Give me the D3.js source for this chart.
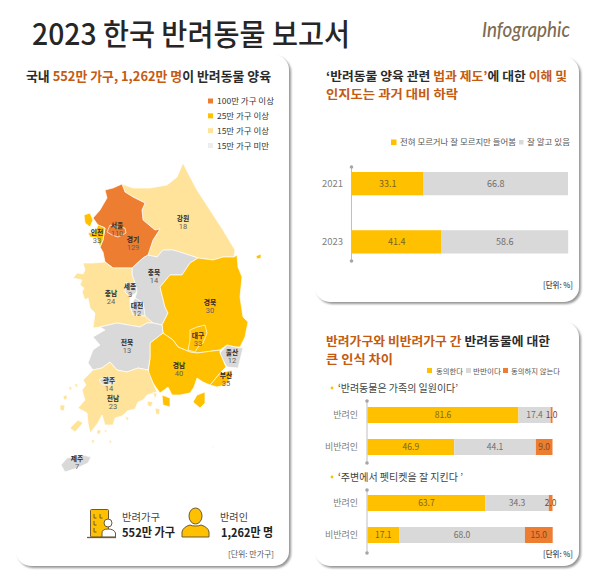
<!DOCTYPE html>
<html><head><meta charset="utf-8">
<script src="https://cdnjs.cloudflare.com/ajax/libs/d3/7.8.5/d3.min.js"></script>
<style>html,body{margin:0;padding:0;background:#fff}svg{display:block}text{font-family:"Noto Sans CJK KR","Noto Sans",sans-serif}</style>
</head><body><svg id="c" width="600" height="576"></svg>
<script>
// ---------- data ----------
const regionNames = ["강원","경기","인천","서울","충북","세종","대전","충남","경북","대구","울산","부산","경남","전북","전남","광주","제주"];
const regionValues = [18,129,33,110,14,3,12,24,30,33,12,35,40,13,23,14,7];
// outlines in km east / north of a south-west map origin
const regionOutlines = [
 [[[246,634],[256,614],[274,580],[300,540],[326,500],[350,460],[348,446],[326,446],[306,440],[276,444],[246,454],[226,460],[206,460],[194,446],[176,450],[186,480],[200,502],[190,500],[166,520],[164,540],[170,554],[146,566],[130,576],[124,592],[146,584],[180,584],[214,590],[234,606]]],
 [[[124,592],[130,576],[146,566],[170,554],[164,540],[166,520],[190,500],[200,502],[186,480],[176,450],[166,444],[144,424],[124,424],[106,424],[90,436],[86,456],[80,466],[86,480],[90,504],[76,510],[66,524],[80,540],[94,564],[90,580],[106,584]]],
 [[[48,530],[60,534],[66,520],[60,506],[50,514]],[[76,510],[90,504],[86,480],[80,466],[74,484],[60,486],[56,494],[70,496]]],
 [[[100,510],[114,506],[130,504],[132,494],[116,486],[104,490],[94,496]]],
 [[[144,424],[166,444],[176,450],[194,446],[206,460],[226,460],[246,454],[276,444],[260,434],[244,410],[220,410],[200,386],[210,346],[216,334],[204,310],[186,314],[170,326],[166,354],[150,364],[154,376],[150,394],[144,410]]],
 [[[130,394],[150,394],[154,376],[140,366],[130,376]]],
 [[[150,364],[166,354],[170,328],[146,330],[140,346]]],
 [[[46,434],[66,434],[90,436],[106,424],[124,424],[144,424],[144,410],[150,394],[130,394],[130,376],[140,366],[140,346],[146,330],[170,328],[186,314],[174,314],[160,306],[114,314],[80,306],[66,304],[70,334],[60,344],[56,364],[50,360],[44,376],[48,384],[40,390],[44,400],[26,404],[34,414],[46,412],[50,420]]],
 [[[348,446],[354,450],[356,426],[364,406],[360,366],[366,326],[376,316],[370,286],[360,266],[350,266],[334,270],[320,260],[274,254],[260,256],[236,266],[226,280],[206,294],[204,310],[216,334],[210,346],[200,386],[220,410],[244,410],[260,434],[276,444],[306,440],[326,446]],[[392,448],[402,452],[402,444],[394,442]]],
 [[[260,300],[274,306],[290,310],[294,294],[286,274],[276,266],[270,256],[256,260],[260,280]]],
 [[[320,254],[334,270],[350,266],[366,264],[360,240],[356,224],[334,226],[326,240]]],
 [[[300,190],[320,214],[344,220],[344,206],[330,190],[314,186]]],
 [[[206,294],[226,280],[236,266],[260,256],[274,254],[320,260],[320,254],[326,240],[332,226],[320,214],[300,190],[286,196],[274,204],[268,186],[260,174],[240,170],[224,170],[216,186],[200,174],[186,194],[176,214],[180,244],[180,274],[200,290]],[[274,170],[290,176],[290,154],[280,144],[266,156]],[[204,170],[220,164],[220,146],[206,150]]],
 [[[80,306],[114,314],[160,306],[174,314],[186,314],[204,310],[206,294],[180,274],[180,244],[176,220],[156,224],[134,216],[114,220],[100,236],[84,224],[66,220],[56,234],[66,260],[80,270],[66,286],[90,300]]],
 [[[66,220],[84,224],[100,236],[114,220],[134,216],[156,224],[176,220],[186,194],[194,176],[174,170],[166,160],[156,156],[150,142],[134,138],[124,128],[110,124],[106,110],[90,110],[84,130],[76,114],[60,94],[56,114],[54,134],[36,144],[50,160],[44,180],[52,190],[46,200]],[[20,104],[36,120],[46,114],[30,96]],[[0,150],[10,150],[8,138],[0,140]],[[6,168],[14,170],[14,162],[8,160]],[[16,186],[24,186],[22,178]],[[28,192],[36,192],[34,184]],[[74,100],[82,100],[80,92],[74,92]],[[88,100],[94,100],[92,94]],[[62,80],[70,80],[66,72]],[[98,80],[104,78],[100,72]],[[190,144],[200,142],[198,130],[192,132]],[[130,128],[138,124],[134,118]],[[176,158],[186,156],[182,146],[174,150]],[[186,176],[194,172],[190,162]],[[304,68],[308,68],[306,64]]],
 [[[78,200],[90,206],[106,206],[110,196],[96,190],[84,192]]],
 [[[2,30],[14,44],[46,50],[62,46],[56,34],[34,24],[10,16]]]
];
const regionLabelSpots = [[246,522],[146,480],[74,494],[114,508],[188,414],[140,386],[154,348],[102,372],[300,354],[276,288],[344,254],[332,208],[238,228],[134,274],[106,162],[98,198],[34,42]];
const tierBreaks = [15,25,100];
const tierColours = ["#D9D9D9","#FFE39A","#FFC000","#ED7D31"];
const tierLabels = ["100만 가구 이상","25만 가구 이상","15만 가구 이상","15만 가구 미만"];

const lawYears = ["2021","2023"];
const lawUnaware = [33.1,41.4];
const lawAware = [66.8,58.6];
const lawLegend = ["전혀 모르거나 잘 모르지만 들어봄","잘 알고 있음"];

const groups = ["반려인","비반려인"];
const familyAgree = [81.6,46.9];
const familyNeutral = [17.4,44.1];
const familyDisagree = [1.0,9.0];
const etiquetteAgree = [63.7,17.1];
const etiquetteNeutral = [34.3,68.0];
const etiquetteDisagree = [2.0,15.0];
const opinionLegend = ["동의한다","반반이다","동의하지 않는다"];

// ---------- helpers ----------
const svg = d3.select("#c");
const ORANGE="#C55A11", DARK="#2b2b2b", YEL="#FFC000", GREY="#D9D9D9", ORG="#ED7D31";
const defs = svg.append("defs");
const f = defs.append("filter").attr("id","sh").attr("x","-5%").attr("y","-5%").attr("width","112%").attr("height","112%");
f.append("feDropShadow").attr("dx",2).attr("dy",2).attr("stdDeviation",.8).attr("flood-color","#8a8a8a").attr("flood-opacity",.9);

function panel(x,y,w,h){svg.append("rect").attr("x",x).attr("y",y).attr("width",w).attr("height",h).attr("rx",15).attr("fill","#fff").attr("filter","url(#sh)");}
function text(x,y,str,o={}){
  const t=svg.append("text").attr("x",x).attr("y",y).attr("font-size",o.size||10).attr("font-weight",o.weight||400)
   .attr("fill",o.fill||DARK).attr("text-anchor",o.anchor||"start").text(str);
  if(o.spacing!==undefined)t.attr("letter-spacing",o.spacing);
  if(o.family)t.style("font-family",o.family);
  if(o.style)t.style("font-style",o.style);
  if(o.len)t.attr("textLength",o.len).attr("lengthAdjust","spacingAndGlyphs");
  return t;
}
function rich(x,y,parts,o){
  const t=text(x,y,"",o);
  parts.forEach(p=>t.append("tspan").attr("fill",p[1]).text(p[0]));
  return t;
}

// ---------- panels and header ----------
panel(16,55,273,511); panel(315,57,264,245); panel(315,322,264,244);
text(32,45,"2023 한국 반려동물 보고서",{size:29.5,weight:500,fill:"#262626",len:318});
text(482,37,"Infographic",{size:21,weight:500,fill:"#7d6c52",style:"italic",family:"Lato",len:88});

// ---------- left: map ----------
rich(26,81,[["국내 ",DARK],["552만 가구, 1,262만 명",ORANGE],["이 반려동물 양육",DARK]],{size:13,weight:700,len:245});
const tierScale=d3.scaleThreshold().domain(tierBreaks).range(tierColours);
const mapX=d3.scaleLinear().domain([0,400]).range([60,260]);
const mapY=d3.scaleLinear().domain([0,640]).range([480,160]);
const outline=d3.line().x(d=>mapX(d[0])).y(d=>mapY(d[1])).curve(d3.curveLinearClosed);
const mapG=svg.append("g");
regionNames.forEach((n,i)=>{
  mapG.selectAll(null).data(regionOutlines[i]).join("path").attr("d",outline)
   .attr("fill",tierScale(regionValues[i])).attr("stroke","#fff").attr("stroke-width",.7).attr("stroke-linejoin","round");
});
regionNames.forEach((n,i)=>{
  const p=regionLabelSpots[i], px=mapX(p[0]), py=mapY(p[1]);
  text(px,py+1.5,n,{size:6.8,weight:700,fill:"#2b2b2b",anchor:"middle"});
  text(px,py+9.8,regionValues[i],{size:7.5,fill:"#5f5f5f",anchor:"middle",family:"Roboto"});
});
const tierOrder=[100,25,15,0];
const legY=d3.scalePoint().domain(tierLabels).range([101,145.5]);
tierLabels.forEach((l,i)=>{
  svg.append("rect").attr("x",208).attr("y",legY(l)-2.5).attr("width",5).attr("height",5).attr("fill",i==3?"#EDEDED":tierScale(tierOrder[i]));
  text(217,legY(l)+3,l,{size:8.2,fill:"#333",len:i==0?57:52});
});
// icons
const ink="#6d5a37";
const bld=svg.append("g").attr("transform","translate(87,509)");
bld.append("rect").attr("x",3.5).attr("y",0.5).attr("width",18).attr("height",27.5).attr("rx",1).attr("fill",YEL).attr("stroke",ink).attr("stroke-width",1);
[[7,5],[13,5],[7,12],[7,19]].forEach(p=>bld.append("path").attr("d",`M${p[0]} ${p[1]}v4h2.5`).attr("fill","none").attr("stroke",ink).attr("stroke-width",1));
bld.append("circle").attr("cx",21).attr("cy",14).attr("r",4).attr("fill","#fff").attr("stroke",ink).attr("stroke-width",1);
bld.append("path").attr("d","M15 28v-4q0-4 6-4t7.500 4v4z").attr("fill","#fff").attr("stroke",ink).attr("stroke-width",1);
bld.append("path").attr("d","M0 28.500H29").attr("stroke",ink).attr("stroke-width",1.3);
const psn=svg.append("g").attr("transform","translate(181,507)");
psn.append("ellipse").attr("cx",14.5).attr("cy",9).attr("rx",6.5).attr("ry",8).attr("fill",YEL).attr("stroke",ink).attr("stroke-width",1);
psn.append("path").attr("d","M1 30v-5q1-5 8-7q2 1 5.500 1t5.500-1q7 2 8 7v5z").attr("fill",YEL).attr("stroke",ink).attr("stroke-width",1);
text(122,521,"반려가구",{size:10.5,fill:"#444",len:38});
text(122,537,"552만 가구",{size:12,weight:700,fill:"#222",len:53});
text(220,521,"반려인",{size:10.5,fill:"#444",len:28});
text(221,537,"1,262만 명",{size:12,weight:700,fill:"#222",len:52});
text(274,557,"[단위: 만가구]",{size:7.5,fill:"#555",anchor:"end",len:46});

// ---------- stacked bar helper ----------
function barChart(o){
  const xs=d3.scaleLinear().domain([0,100]).range(o.xRange);
  const ys=d3.scaleBand().domain(o.cats).range(o.yRange).paddingInner(o.pad);
  const g=svg.append("g");
  // axis
  const ax=o.xRange[0]-.5;
  g.append("line").attr("x1",ax).attr("x2",ax).attr("y1",o.axis[0]).attr("y2",o.axis[1]).attr("stroke","#BFBFBF").attr("stroke-width",1);
  o.axis.forEach(y=>g.append("circle").attr("cx",ax).attr("cy",y).attr("r",1.8).attr("fill","#A6A6A6"));
  o.cats.forEach((c,i)=>{
    let acc=0;
    o.series.forEach((s,j)=>{
      const v=s[i], x0=xs(acc), x1=xs(acc+v);
      g.append("rect").attr("x",x0).attr("y",ys(c)).attr("width",x1-x0).attr("height",ys.bandwidth()).attr("fill",o.colours[j]);
      acc+=v;
    });
    acc=0;
    o.series.forEach((s,j)=>{
      const v=s[i];
      text(xs(acc+v/2),ys(c)+ys.bandwidth()/2+3.2,v.toFixed(1),{size:o.valueSize,fill:j==0?"#7a6420":(j==1?"#6e6e6e":"#7d4a20"),anchor:"middle"});
      acc+=v;
    });
    text(o.catX,ys(c)+ys.bandwidth()/2+3,c,{size:o.catSize,fill:"#808080",anchor:"end"});
  });
}

// ---------- top right ----------
rich(326,81,[["‘반려동물 양육 관련 ",DARK],["법과 제도’",ORANGE],["에 대한 ",DARK],["이해 및",ORANGE]],{size:12.5,weight:700,len:241});
rich(326,99,[["인지도는 과거 대비 하락",ORANGE]],{size:12.5,weight:700,len:132});
svg.append("rect").attr("x",391).attr("y",139.500).attr("width",5.5).attr("height",5.5).attr("fill",YEL);
text(400,145,lawLegend[0],{size:8.2,fill:"#555",len:116});
svg.append("rect").attr("x",519).attr("y",140).attr("width",4.5).attr("height",4.5).attr("fill",GREY);
text(527,145,lawLegend[1],{size:8.2,fill:"#555",len:43});
barChart({cats:lawYears,series:[lawUnaware,lawAware],colours:[YEL,GREY],xRange:[352,568.2],yRange:[172,253.5],pad:.6,axis:[167,261],catX:343,catSize:9.5,valueSize:9});
text(573,288,"[단위: %]",{size:8,weight:500,fill:"#444",anchor:"end",len:30});

// ---------- bottom right ----------
rich(326,346,[["반려가구와 비반려가구 간",ORANGE],[" 반려동물에 대한",DARK]],{size:12.5,weight:700,len:224});
rich(326,364,[["큰 인식 차이",ORANGE]],{size:12.5,weight:700,len:67});
const legCols=[YEL,GREY,ORG];
[[427,436,27],[466,473,28],[503,511,49]].forEach((p,i)=>{
  svg.append("rect").attr("x",p[0]).attr("y",368).attr("width",5).attr("height",5).attr("fill",legCols[i]);
  text(p[1],373.5,opinionLegend[i],{size:7.2,fill:"#555",len:p[2]});
});
svg.append("circle").attr("cx",332).attr("cy",388).attr("r",1.4).attr("fill",YEL);
text(338,392,"‘반려동물은 가족의 일원이다’",{size:10,fill:"#444",len:120});
barChart({cats:groups,series:[familyAgree,familyNeutral,familyDisagree],colours:[YEL,GREY,ORG],xRange:[367.5,552.5],yRange:[407,455],pad:.5,axis:[401,463],catX:358,catSize:9,valueSize:8.5});
svg.append("circle").attr("cx",332).attr("cy",477).attr("r",1.4).attr("fill",YEL);
text(338,481,"‘주변에서 펫티켓을 잘 지킨다 ’",{size:10,fill:"#444",len:125});
barChart({cats:groups,series:[etiquetteAgree,etiquetteNeutral,etiquetteDisagree],colours:[YEL,GREY,ORG],xRange:[367.5,552.5],yRange:[495,543],pad:.5,axis:[490,553],catX:358,catSize:9,valueSize:8.5});
text(573,557,"[단위: %]",{size:8,weight:500,fill:"#444",anchor:"end",len:30});
</script></body></html>
